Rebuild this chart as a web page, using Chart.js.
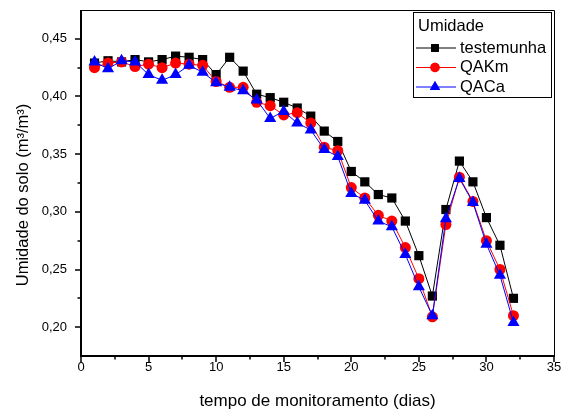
<!DOCTYPE html>
<html>
<head>
<meta charset="utf-8">
<script src="https://cdn.jsdelivr.net/npm/chart.js@4.4.1/dist/chart.umd.min.js"></script>
<style>
  html, body { margin: 0; padding: 0; background: #ffffff; }
  #wrap { width: 563px; height: 414px; position: relative; }
</style>
</head>
<body>
<div id="wrap"><canvas id="c" width="563" height="414"></canvas></div>
<script>
// days of monitoring
const days = [1,2,3,4,5,6,7,8,9,10,11,12,13,14,15,16,17,18,19,20,21,22,23,24,25,26,27,28,29,30,31,32];

// soil moisture (m3/m3) per treatment
const testemunha = [0.429,0.431,0.430,0.432,0.430,0.432,0.435,0.434,0.432,0.419,0.434,0.422,0.402,0.399,0.395,0.390,
                    0.383,0.370,0.361,0.335,0.326,0.315,0.312,0.292,0.262,0.227,0.302,0.344,0.326,0.295,0.271,0.225];
const qakm = [0.425,0.429,0.430,0.426,0.428,0.425,0.429,0.428,0.427,0.413,0.408,0.408,0.395,0.392,0.384,0.386,
              0.377,0.356,0.353,0.321,0.312,0.297,0.292,0.269,0.242,0.209,0.289,0.330,0.309,0.275,0.250,0.210];
const qaca = [0.430,0.424,0.431,0.430,0.419,0.414,0.419,0.427,0.421,0.412,0.408,0.405,0.397,0.381,0.387,0.377,
              0.371,0.354,0.348,0.316,0.310,0.292,0.287,0.263,0.235,0.210,0.294,0.329,0.308,0.272,0.245,0.204];

// axes
const xTicks = [0,5,10,15,20,25,30,35];
const xMinor = [2.5,7.5,12.5,17.5,22.5,27.5,32.5];
const yTicks = [0.20,0.25,0.30,0.35,0.40,0.45];
const yTickLabels = ['0,20','0,25','0,30','0,35','0,40','0,45'];
const yMinor = [0.225,0.275,0.325,0.375,0.425];

const FONT = "'Liberation Sans', Arial, sans-serif";

function pts(arr){
  return days.map(function(d,i){ return {x:d, y:arr[i]}; });
}

// draws the box, tick marks, axis titles and the legend
const frame = {
  id: 'frame',
  afterDraw: function(chart){
    var ctx = chart.ctx, a = chart.chartArea;
    var xs = chart.scales.x, ys = chart.scales.y;
    var i, p;
    ctx.save();
    ctx.strokeStyle = '#000';
    // top & right thin
    ctx.lineWidth = 1;
    ctx.beginPath();
    ctx.moveTo(a.left, a.top+0.5); ctx.lineTo(a.right+0.5, a.top+0.5); ctx.lineTo(a.right+0.5, a.bottom);
    ctx.stroke();
    // left & bottom heavier
    ctx.lineWidth = 2;
    ctx.beginPath();
    ctx.moveTo(a.left, a.top); ctx.lineTo(a.left, a.bottom); ctx.lineTo(a.right+1, a.bottom);
    ctx.stroke();
    // ticks, pointing out
    ctx.lineWidth = 1.5;
    ctx.beginPath();
    for(i = 0; i < xTicks.length; i++){ p = Math.round(xs.getPixelForValue(xTicks[i])); ctx.moveTo(p, a.bottom); ctx.lineTo(p, a.bottom+6); }
    for(i = 0; i < xMinor.length; i++){ p = Math.round(xs.getPixelForValue(xMinor[i])); ctx.moveTo(p, a.bottom); ctx.lineTo(p, a.bottom+3.5); }
    for(i = 0; i < yTicks.length; i++){ p = Math.round(ys.getPixelForValue(yTicks[i])); ctx.moveTo(a.left, p); ctx.lineTo(a.left-6, p); }
    for(i = 0; i < yMinor.length; i++){ p = Math.round(ys.getPixelForValue(yMinor[i])); ctx.moveTo(a.left, p); ctx.lineTo(a.left-3.5, p); }
    ctx.stroke();

    // axis titles
    ctx.fillStyle = '#000';
    ctx.font = '17px ' + FONT;
    ctx.textAlign = 'center';
    ctx.textBaseline = 'middle';
    ctx.fillText('tempo de monitoramento (dias)', (a.left+a.right)/2, 401);
    ctx.save();
    ctx.translate(23, 195);
    ctx.rotate(-Math.PI/2);
    ctx.font = '16.5px ' + FONT;
    ctx.fillText('Umidade do solo (m\u00B3/m\u00B3)', 0, 0);
    ctx.restore();

    // legend box
    var bx = 413, by = 12, bw = 138, bh = 85;
    ctx.fillStyle = '#fff';
    ctx.fillRect(bx, by, bw, bh);
    ctx.lineWidth = 1;
    ctx.strokeRect(bx+0.5, by+0.5, bw, bh);
    ctx.fillStyle = '#000';
    ctx.textAlign = 'left';
    ctx.font = '16.5px ' + FONT;
    ctx.fillText('Umidade', bx+5, by+14);
    var order = [2,1,0];
    for(i = 0; i < order.length; i++){
      var ds = chart.data.datasets[order[i]];
      var y = by + 36 + i*19.5;
      ctx.strokeStyle = ds.borderColor;
      ctx.lineWidth = 1;
      ctx.beginPath(); ctx.moveTo(bx+3, y); ctx.lineTo(bx+43, y); ctx.stroke();
      ctx.fillStyle = ds.pointBackgroundColor;
      Chart.helpers.drawPoint(ctx, {pointStyle: ds.pointStyle, radius: ds.pointRadius*0.85, rotation: 0, borderWidth: 0}, bx+22, y);
      ctx.fill();
      ctx.fillStyle = '#000';
      ctx.fillText(ds.label, bx+47, y);
    }
    ctx.restore();
  }
};

new Chart(document.getElementById('c'), {
  type: 'line',
  data: {
    datasets: [
      {label:'QACa', data: pts(qaca), order: 0, borderColor:'#0000ff', backgroundColor:'#0000ff',
       pointBackgroundColor:'#0000ff', pointBorderWidth:0, pointStyle:'triangle', pointRadius:7, borderWidth:1},
      {label:'QAKm', data: pts(qakm), order: 1, borderColor:'#ff0000', backgroundColor:'#ff0000',
       pointBackgroundColor:'#ff0000', pointBorderWidth:0, pointStyle:'circle', pointRadius:5.5, borderWidth:1},
      {label:'testemunha', data: pts(testemunha), order: 2, borderColor:'#000000', backgroundColor:'#000000',
       pointBackgroundColor:'#000000', pointBorderWidth:0, pointStyle:'rect', pointRadius:6.5, borderWidth:1}
    ]
  },
  options: {
    responsive: false,
    animation: false,
    layout: { padding: { top: 10, right: 9, left: 0, bottom: 0 } },
    plugins: { legend: { display: false }, tooltip: { enabled: false } },
    scales: {
      x: {
        type: 'linear', min: 0, max: 35,
        grid: { display: false, drawTicks: false },
        border: { display: false },
        afterBuildTicks: function(s){ s.ticks = xTicks.map(function(v){ return {value:v}; }); },
        afterFit: function(s){ s.height = 58; s.paddingLeft = 0; s.paddingRight = 0; },
        ticks: { padding: 4, color:'#000', font: { family: FONT, size: 13 }, maxRotation: 0, autoSkip: false }
      },
      y: {
        type: 'linear', min: 0.175, max: 0.475,
        grid: { display: false, drawTicks: false },
        border: { display: false },
        afterBuildTicks: function(s){ s.ticks = yTicks.map(function(v){ return {value:v}; }); },
        afterFit: function(s){ s.width = 81; s.paddingTop = 0; s.paddingBottom = 0; },
        ticks: { padding: 14, color:'#000', font: { family: FONT, size: 13 }, autoSkip: false,
          callback: function(v){ var k = yTicks.findIndex(function(t){ return Math.abs(t-v) < 1e-6; }); return k >= 0 ? yTickLabels[k] : ''; } }
      }
    }
  },
  plugins: [frame]
});
</script>
</body>
</html>
